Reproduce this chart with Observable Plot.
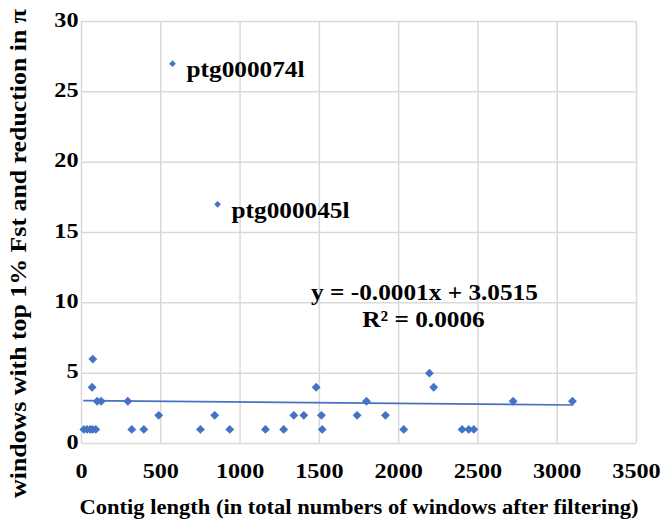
<!DOCTYPE html>
<html><head><meta charset="utf-8">
<script src="https://cdn.jsdelivr.net/npm/d3@7"></script>
<script src="https://cdn.jsdelivr.net/npm/@observablehq/plot@0.6"></script>
<style>body{margin:0;background:#fff} svg{display:block}</style>
</head><body><div id="chart"></div>
<script>
// ---- data ----
const contigLength = [15, 35, 55, 70, 90, 71, 67, 99, 124, 292, 487, 840, 317, 393, 750, 935, 1160, 1275, 1339, 1402, 1513, 1738, 1917, 1480, 1518, 1797, 2032, 2194, 2221, 2400, 2442, 2474, 2722, 3096];
const windowCount  = [1, 1, 1, 1, 1, 6, 4, 3, 3, 3, 2, 2, 1, 1, 1, 1, 1, 1, 2, 2, 2, 2, 2, 4, 1, 3, 1, 5, 4, 1, 1, 1, 3, 3];
const outlierNames  = ["ptg000074l", "ptg000045l"];
const outlierLength = [574, 858];
const outlierCount  = [27, 17];
const xTicks = [0, 500, 1000, 1500, 2000, 2500, 3000, 3500];
const yTicks = [0, 5, 10, 15, 20, 25, 30];
const trendSlope = -0.0001;
const trendIntercept = 3.0515;
const trendLabel = ["y = -0.0001x + 3.0515", "R² = 0.0006"];
const xTitle = "Contig length (in total numbers of windows after filtering)";
const yTitle = "windows with top 1% Fst and reduction in π";

// ---- derived tables ----
const points = contigLength.map((x, i) => ({x, y: windowCount[i]}));
const outliers = outlierNames.map((name, i) => ({name, x: outlierLength[i], y: outlierCount[i]}));
const [tx0, tx1] = d3.extent(contigLength.concat(outlierLength));
const trend = [tx0, tx1].map(x => ({x, y: trendSlope * x + trendIntercept}));

const BLUE = "#4472C4";
const GRID = "#d9d9d9";
const FONT = "'Liberation Serif', 'Times New Roman', serif";
const T = {fontWeight: "bold", fill: "#000", lineAnchor: "middle"};

const svg = Plot.plot({
  width: 664, height: 521,
  marginLeft: 81, marginRight: 28, marginTop: 21, marginBottom: 78,
  x: {domain: [0, 3500], axis: null},
  y: {domain: [0, 30], axis: null},
  style: {fontFamily: FONT, fontWeight: "bold", color: "#000", background: "#fff"},
  marks: [
    Plot.ruleX(xTicks, {x: d => d, stroke: GRID, strokeWidth: 1.5}),
    Plot.ruleY(yTicks, {y: d => d, stroke: GRID, strokeWidth: 1.5}),
    Plot.text(xTicks, {...T, x: d => d, text: d => String(d), frameAnchor: "bottom", dy: 27, textAnchor: "middle", fontSize: 22}),
    Plot.text(yTicks, {...T, y: d => d, text: d => String(d), frameAnchor: "left", dx: -3, dy: -2, textAnchor: "end", fontSize: 22}),
    Plot.text([xTitle], {...T, frameAnchor: "bottom", dy: 64, textAnchor: "middle", fontSize: 20.5}),
    Plot.text([yTitle], {...T, frameAnchor: "left", dx: -63, dy: 21, rotate: -90, textAnchor: "middle", fontSize: 23.5}),
    Plot.line(trend, {x: "x", y: "y", stroke: BLUE, strokeWidth: 1.6}),
    Plot.dot(points, {x: "x", y: "y", symbol: "diamond2", r: 4, fill: BLUE, stroke: "none"}),
    Plot.dot(outliers, {x: "x", y: "y", symbol: "diamond2", r: 3, fill: BLUE, stroke: "none"}),
    Plot.text(outliers, {...T, x: "x", y: "y", text: "name", textAnchor: "start", dx: 14, dy: 6, fontSize: 23}),
    Plot.text([trendLabel[0]], {...T, frameAnchor: "top-left", dx: 343, dy: 271, textAnchor: "middle", fontSize: 23}),
    Plot.text([trendLabel[1]], {...T, frameAnchor: "top-left", dx: 342, dy: 298, textAnchor: "middle", fontSize: 23})
  ]
});
document.getElementById("chart").append(svg);

// horizontal stretch of the glyphs (about each text's anchor point), as in the reference
const STRETCH = 1.1;
svg.querySelectorAll("text").forEach(t => {
  const tr = t.getAttribute("transform") || "";
  t.setAttribute("transform", `${tr} scale(${STRETCH},1)`);
});
</script>
</body></html>
